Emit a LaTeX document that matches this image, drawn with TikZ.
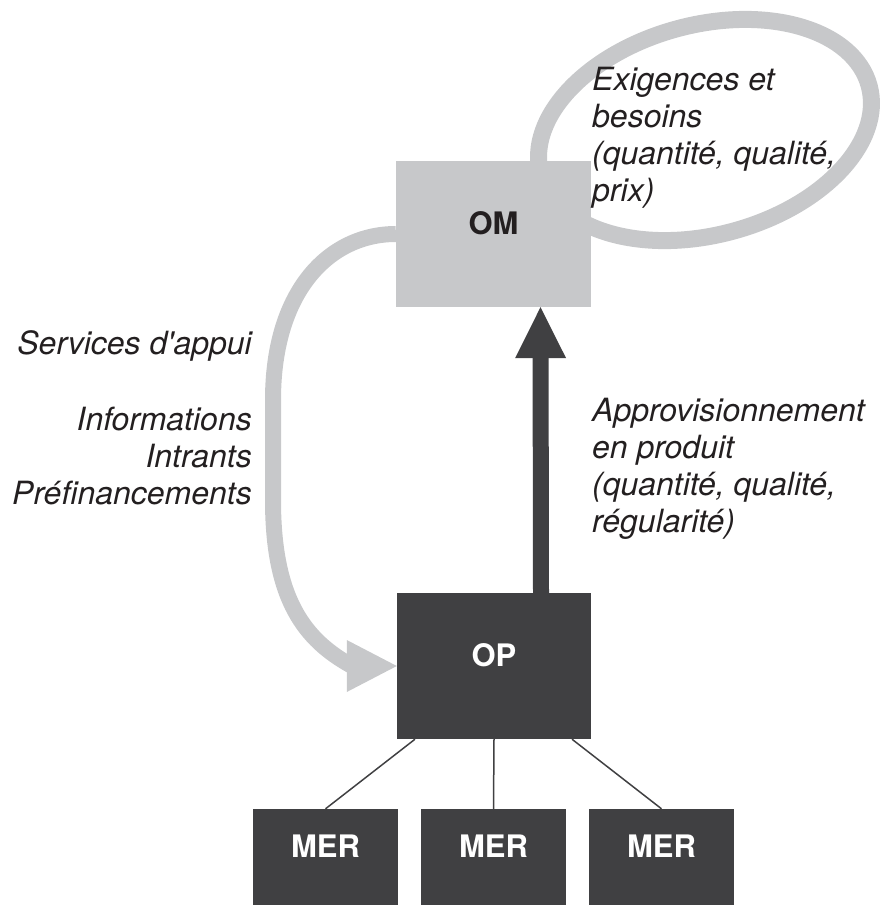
\documentclass[tikz,border=0pt]{standalone}
\usepackage{fontspec}
\setmainfont{TeX Gyre Heros}
\usetikzlibrary{arrows.meta}
\definecolor{lightgrey}{HTML}{C7C8CA}
\definecolor{darkgrey}{HTML}{404042}
\definecolor{inkblack}{HTML}{231F20}

\begin{document}
\begin{tikzpicture}[x=1pt, y=-1pt,
    box/.style={rectangle, inner sep=0pt, text height=12pt, text depth=12pt,
      font=\fontsize{31}{37}\selectfont\bfseries},
    lab/.style={inner sep=0pt, text=inkblack, font=\fontsize{32}{37}\selectfont\itshape},
    band/.style={lightgrey, line width=16pt}]
    \useasboundingbox (0,0) rectangle (882,905);

    % Loop of requirements
    \draw[lightgrey, line width=17pt, rotate around={15:(705,130)}] (705,130) ellipse (170 and 105);

    % Boxes
    \node[box, fill=lightgrey, text=inkblack, minimum width=195pt, minimum height=146pt] (OM) at (493.5,234) {OM};
    \node[box, fill=darkgrey, text=white, minimum width=194pt, minimum height=146pt] (OP) at (494,666) {OP};
    \foreach \i/\x in {1/325.5, 2/493.5, 3/661.5}
        \node[box, fill=darkgrey, text=white, minimum width=145pt, minimum height=96pt] (mer\i) at (\x,857) {MER};

    % Links to the MER
    \draw[darkgrey, line width=1.5pt] ([xshift=-79pt]OP.south) -- (mer1.north);
    \draw[darkgrey, line width=1.5pt] (OP.south) -- (mer2.north);
    \draw[darkgrey, line width=1.5pt] ([xshift=78pt]OP.south) -- (mer3.north);

    % Supply arrow
    \draw[darkgrey, line width=16pt, -{Triangle[length=51pt, width=51pt, line width=0pt]}]
        ([xshift=47pt]OP.north) -- ([xshift=47pt]OM.south);

    % Support arrow
    \coordinate (headbase) at (352,666);
    \draw[band] (OM.west) .. controls (330,234) and (273,290) .. (273,400)
        -- (273,500) .. controls (273,600) and (305,640) .. (headbase);
    \draw[band, -{Triangle[length=50pt, width=52pt, line width=0pt]}] (headbase) -- (OP.west);

    % Labels
    \node[lab, anchor=north west, align=left] (needs) at (592,67)
        {Exigences et\\besoins\\(quantité, qualité,\\prix)};
    \node[lab, anchor=north west, align=left] (supply) at (592,398)
        {Approvisionnement\\en produit\\(quantité, qualité,\\régularité)};
    \node[lab, anchor=north east, align=right] (support) at (252,330) {Services d\textquotesingle appui};
    \node[lab, anchor=north east, align=right] (inputs) at (252,407)
        {Informations\\Intrants\\Préfinancements};
\end{tikzpicture}
\end{document}
